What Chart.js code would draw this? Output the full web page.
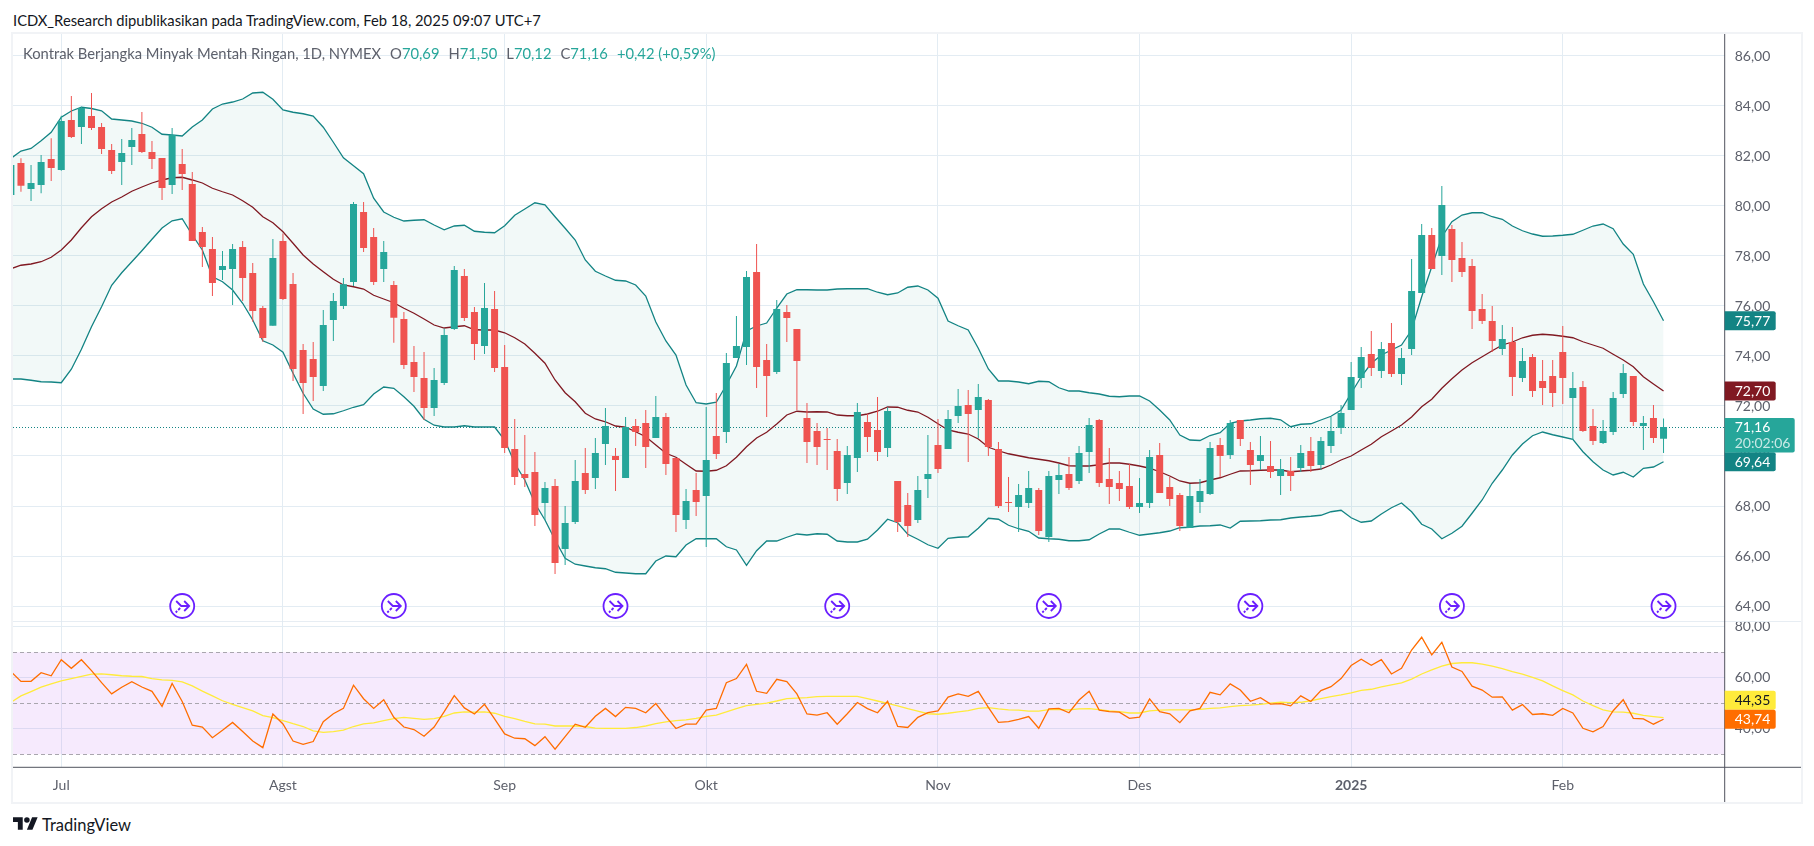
<!DOCTYPE html>
<html>
<head>
<meta charset="utf-8">
<title>Kontrak Berjangka Minyak Mentah Ringan</title>
<script src="https://cdn.jsdelivr.net/npm/chart.js@4"></script>
<style>
  html, body { margin: 0; padding: 0; background: #fff; overflow: hidden; }
  body { width: 1814px; height: 846px; position: relative; font-family: "Lato", sans-serif; }
  .abs { position: absolute; white-space: nowrap; }
  #frame { left: 11px; top: 32px; width: 1788px; height: 768px; border: 2px solid #f1f3f6; }
  #header { left: 13px; top: 11px; font-size: 14.75px; line-height: 18px; color: #131722; }
  #legend { left: 23px; top: 44px; font-size: 14.75px; line-height: 18px; color: #5d606b; }
  #legend b { font-weight: normal; color: #26a69a; }
  #legend span { margin-left: 9px; }
  #brand { left: 42px; top: 815px; font-size: 16.5px; line-height: 20px; color: #131722; }
  canvas { position: absolute; left: 13px; display: block; }
</style>
</head>
<body>
<div id="frame" class="abs"></div>
<div id="header" class="abs">ICDX_Research dipublikasikan pada TradingView.com, Feb 18, 2025 09:07 UTC+7</div>
<canvas id="priceChart" width="1788" height="588" style="top:34px"></canvas>
<canvas id="rsiChart" width="1788" height="180" style="top:622px"></canvas>
<div id="legend" class="abs">Kontrak Berjangka Minyak Mentah Ringan, 1D, NYMEX<span>O<b>70,69</b></span><span>H<b>71,50</b></span><span>L<b>70,12</b></span><span>C<b>71,16</b></span><span><b>+0,42 (+0,59%)</b></span></div>
<svg class="abs" style="left:13px;top:817px" width="25" height="13" viewBox="0 4 36 18"><path fill="#131722" d="M14 22H7V11H0V4h14v18zM28 22h-8l7.5-18h8L28 22z"/><circle fill="#131722" cx="20" cy="8" r="4"/></svg>
<div id="brand" class="abs">TradingView</div>

<script>
// bar number of the first candle, bar 0 is the first session of July
const firstBar = -5;

const opens = [80.44,81.72,80.68,80.84,81.88,
  81.44,83.44,83.16,83.6,83.16,82.24,81.76,82.36,82.88,82.16,
  81.92,80.84,81.68,80.88,78.96,78.28,77.44,77.48,78.36,77.32,
  75.92,75.21,78.6,76.88,74.24,73.88,72.8,75.44,76.0,76.96,
  79.76,78.76,77.48,76.84,75.48,73.76,73.12,71.92,72.92,75.08,
  77.2,75.76,74.4,75.88,73.56,70.28,69.28,69.36,68.12,68.8,
  66.28,67.36,69.32,69.12,70.48,70.0,69.12,71.2,71.32,70.72,
  71.56,69.92,67.44,68.64,68.4,70.8,70.96,73.92,74.36,77.36,
  73.84,73.36,75.76,75.08,71.52,71.0,70.68,70.2,68.92,69.92,
  71.36,71.04,70.32,69.0,68.04,67.44,69.08,70.44,70.28,71.6,
  72.04,71.84,72.24,70.28,68.16,67.96,68.12,68.64,66.76,69.04,
  69.28,69.0,70.16,71.44,69.08,68.92,68.8,67.96,68.12,70.04,
  68.76,68.44,67.12,68.16,68.48,70.44,70.04,71.44,70.24,69.8,
  69.6,69.2,69.4,69.52,70.2,69.64,70.4,71.12,71.84,73.12,
  74.08,73.4,74.52,73.28,74.28,76.52,78.84,78.0,79.08,77.92,
  77.6,75.88,75.4,74.28,74.56,73.12,73.96,73.0,73.2,74.16,
  72.32,72.76,71.2,70.52,70.96,72.48,73.2,71.2,71.52,70.69];

const closes = [81.64,80.81,80.92,81.76,81.52,
  83.4,82.76,83.92,83.12,82.28,81.4,82.12,82.64,82.16,81.88,
  80.72,82.84,81.28,78.6,78.36,76.92,77.6,78.28,77.12,75.8,
  74.72,77.92,76.28,73.48,72.92,73.16,75.24,76.2,76.87,80.08,
  78.32,76.96,78.16,75.53,73.64,73.16,71.92,73.04,74.84,77.44,
  75.52,74.48,75.92,73.52,70.32,69.16,69.12,67.64,68.72,65.72,
  67.32,69.0,68.64,70.12,71.2,69.84,71.16,70.96,70.36,71.56,
  69.68,67.64,68.2,68.16,69.84,70.08,73.72,74.4,77.16,73.56,
  73.2,75.88,75.52,73.8,70.56,70.36,70.64,68.68,70.04,71.76,
  70.76,70.16,71.8,67.36,67.2,68.64,69.28,69.48,71.48,72.0,
  71.68,72.36,70.36,68.0,68.12,68.44,68.72,67.0,69.2,69.24,
  68.72,70.12,71.24,68.92,68.76,68.68,67.96,68.12,69.96,68.52,
  68.28,67.2,68.4,68.6,70.32,70.0,71.32,70.68,69.64,70.04,
  69.36,69.48,69.2,70.12,69.6,70.6,71.0,71.72,73.16,73.96,
  73.52,74.28,73.28,73.92,76.6,78.84,77.48,80.04,77.84,77.36,
  75.8,75.4,74.6,74.68,73.16,73.8,72.6,72.72,72.52,73.12,
  72.72,71.0,70.6,71.0,72.32,73.32,71.36,71.32,70.72,71.16];

const highs = [81.64,81.91,81.64,82.04,82.71,
  83.61,84.4,83.97,84.52,83.32,82.48,82.68,83.12,83.76,82.6,
  81.92,83.12,82.28,81.36,79.16,78.76,78.2,78.48,78.6,77.72,
  76.0,78.68,78.9,77.32,74.48,74.56,75.84,76.52,77.12,80.16,
  80.16,79.12,78.6,77.0,75.76,74.4,74.16,73.52,75.1,77.6,
  77.48,75.96,76.92,76.6,74.44,71.48,70.84,70.16,68.96,69.08,
  68.0,69.84,70.32,70.72,71.92,70.32,71.56,71.48,71.84,72.4,
  71.72,69.92,68.68,69.32,71.96,72.52,74.12,75.6,77.4,78.48,
  74.48,76.24,76.04,75.08,72.12,71.32,71.12,70.68,70.4,72.12,
  71.68,72.36,71.95,69.0,68.52,69.2,70.84,71.48,71.84,72.68,
  72.64,72.88,72.28,70.56,69.16,68.88,69.4,68.72,69.4,69.68,
  69.96,70.4,71.52,71.48,70.32,69.4,69.68,69.12,70.24,70.52,
  69.16,68.52,68.88,69.08,70.56,70.72,71.44,71.44,70.56,70.8,
  70.6,69.88,69.96,70.44,70.76,70.76,71.56,72.04,73.76,74.36,
  75.0,74.56,75.32,74.32,77.88,79.28,79.12,80.8,79.24,78.56,
  77.88,76.48,76.0,75.24,75.16,74.32,74.08,73.84,73.84,75.2,
  73.36,73.0,71.88,71.44,72.56,73.68,73.2,71.6,72.04,71.5];

const lows = [80.44,80.57,80.2,80.51,81.0,
  81.41,82.72,82.48,83.04,82.08,81.28,80.84,81.64,82.12,81.48,
  80.24,80.48,80.64,78.6,77.56,76.4,77.04,76.04,76.2,75.37,
  74.57,75.21,76.24,73.0,71.68,72.2,72.6,74.6,75.88,76.8,
  78.16,76.84,76.96,74.53,73.48,72.56,71.44,71.6,72.84,75.04,
  75.4,73.84,74.08,73.36,70.12,68.84,68.76,67.2,67.44,65.28,
  65.64,67.28,68.48,68.68,69.64,68.6,69.12,70.4,69.52,70.72,
  69.24,66.96,67.08,67.6,66.36,69.88,70.52,73.92,73.64,72.72,
  71.56,73.28,74.56,71.84,69.72,69.64,69.44,68.2,68.48,69.36,
  70.16,69.8,69.96,66.96,66.76,67.32,68.32,69.32,70.28,71.32,
  69.76,70.72,70.0,67.92,67.76,66.96,67.92,66.84,66.56,68.48,
  68.64,68.88,69.32,68.76,68.08,68.2,67.88,67.72,67.92,68.52,
  68.0,67.0,67.12,67.72,68.44,69.16,69.88,70.4,68.84,69.44,
  69.12,68.44,68.6,69.36,69.36,69.44,70.12,70.88,71.84,72.72,
  73.2,73.12,73.16,72.84,74.04,76.52,77.48,77.24,76.96,77.16,
  75.08,75.28,74.16,74.04,72.4,72.96,72.36,72.04,71.96,72.08,
  70.64,70.96,70.44,70.48,70.84,72.32,71.2,70.24,70.52,70.12];

const bbUpper = [81.9,82.2,82.3,82.61,82.95,
  83.55,83.8,83.95,83.9,83.81,83.48,83.44,83.4,83.31,83.15,
  82.87,82.84,82.8,83.16,83.44,83.88,84.08,84.16,84.28,84.52,
  84.55,84.27,83.84,83.75,83.69,83.6,83.15,82.55,81.93,81.61,
  81.29,80.31,79.76,79.55,79.4,79.43,79.45,79.24,79.05,79.2,
  79.23,78.99,78.95,78.93,79.21,79.63,79.88,80.13,80.05,79.57,
  79.11,78.64,77.84,77.39,77.2,77.03,77.0,76.84,76.4,75.36,
  74.6,74.04,72.84,72.13,72.08,72.15,72.84,73.6,75.0,75.2,
  75.32,75.92,76.48,76.65,76.65,76.64,76.64,76.68,76.69,76.69,
  76.69,76.55,76.45,76.52,76.75,76.8,76.64,76.31,75.4,75.21,
  75.04,74.31,73.48,73.0,73.0,72.96,72.89,72.99,72.97,72.73,
  72.6,72.6,72.53,72.48,72.39,72.37,72.4,72.4,72.2,71.84,
  71.44,70.84,70.64,70.62,70.82,70.93,71.31,71.4,71.44,71.49,
  71.51,71.45,71.17,71.27,71.29,71.44,71.59,71.84,72.51,73.17,
  73.71,74.04,74.24,74.44,75.04,76.37,77.57,78.77,79.37,79.64,
  79.73,79.73,79.57,79.47,79.2,79.01,78.88,78.79,78.8,78.83,
  78.87,79.03,79.2,79.28,79.09,78.48,78.07,76.88,76.17,75.41];

const bbMiddle = [77.49,77.63,77.68,77.77,77.95,
  78.24,78.64,79.13,79.57,79.89,80.16,80.36,80.59,80.76,80.92,
  81.04,81.13,81.15,81.04,80.92,80.71,80.57,80.44,80.21,79.95,
  79.57,79.33,78.97,78.51,78.04,77.68,77.37,77.07,76.84,76.77,
  76.68,76.43,76.28,76.13,75.91,75.71,75.48,75.24,75.12,75.17,
  75.21,75.05,75.04,75.04,74.93,74.73,74.48,74.11,73.71,73.04,
  72.53,72.17,71.71,71.48,71.37,71.2,71.15,70.97,70.77,70.44,
  70.11,69.95,69.67,69.4,69.39,69.43,69.61,69.95,70.37,70.72,
  70.95,71.28,71.64,71.79,71.76,71.77,71.76,71.64,71.61,71.61,
  71.68,71.79,71.96,71.95,71.83,71.76,71.55,71.29,71.04,70.95,
  70.88,70.68,70.35,70.21,70.09,70.01,69.93,69.87,69.81,69.72,
  69.61,69.6,69.6,69.65,69.72,69.72,69.67,69.6,69.51,69.37,
  69.2,69.0,68.91,68.93,69.04,69.13,69.27,69.4,69.41,69.43,
  69.44,69.44,69.37,69.4,69.43,69.48,69.64,69.84,70.0,70.24,
  70.47,70.77,71.0,71.24,71.56,71.97,72.27,72.71,73.09,73.44,
  73.73,73.97,74.21,74.44,74.56,74.73,74.83,74.87,74.84,74.79,
  74.73,74.57,74.44,74.31,74.07,73.84,73.57,73.17,72.88,72.6];

const bbLower = [73.08,73.08,73.03,72.97,72.96,
  72.93,73.47,74.27,75.17,75.97,76.83,77.33,77.77,78.21,78.67,
  79.12,79.41,79.49,78.84,78.24,77.17,76.97,76.64,76.11,75.44,
  74.61,74.44,74.15,73.31,72.51,71.88,71.67,71.69,71.81,71.95,
  72.05,72.48,72.76,72.71,72.37,71.99,71.47,71.23,71.16,71.16,
  71.21,71.16,71.16,71.16,70.64,69.71,69.04,68.11,67.44,66.64,
  65.91,65.67,65.6,65.53,65.49,65.35,65.32,65.29,65.29,65.8,
  66.0,65.97,66.44,66.69,66.69,66.69,66.37,66.24,65.63,66.21,
  66.6,66.6,66.75,66.88,66.84,66.89,66.87,66.6,66.56,66.56,
  66.67,67.04,67.47,67.33,66.87,66.67,66.45,66.31,66.71,66.75,
  66.77,67.11,67.51,67.47,67.23,67.09,66.99,66.72,66.69,66.67,
  66.61,66.61,66.65,66.88,67.08,67.08,66.95,66.83,66.88,66.93,
  67.0,67.13,67.15,67.2,67.21,67.24,67.12,67.39,67.4,67.41,
  67.44,67.45,67.52,67.56,67.59,67.63,67.77,67.83,67.53,67.35,
  67.4,67.68,67.93,68.12,67.77,67.27,67.08,66.69,66.91,67.19,
  67.71,68.24,68.91,69.44,70.04,70.48,70.81,70.96,70.85,70.76,
  70.67,70.17,69.77,69.44,69.24,69.35,69.16,69.51,69.56,69.77];

const rsiValues = [62.4,58.6,58.6,62.0,60.8,
  67.1,63.7,67.1,62.8,58.1,53.7,56.3,58.5,56.4,54.7,
  48.8,57.8,50.7,41.4,40.7,36.5,39.4,42.5,38.9,35.2,
  32.6,45.8,41.9,35.2,33.9,35.0,42.8,45.9,48.0,57.1,
  51.8,48.0,51.4,44.5,40.7,39.7,37.1,40.7,46.7,53.0,
  48.2,45.8,49.6,43.9,38.0,36.3,36.1,33.4,36.9,32.0,
  36.9,41.8,40.6,44.9,48.0,44.8,48.4,48.0,46.3,49.9,
  44.8,40.1,41.8,41.8,47.3,48.0,58.1,59.7,65.3,54.7,
  53.9,59.4,58.5,53.7,45.8,45.4,46.3,41.8,45.9,50.3,
  47.9,46.3,50.8,40.9,40.5,44.5,46.3,47.0,52.4,53.7,
  52.7,54.7,48.4,42.5,42.8,43.7,44.8,40.2,47.8,48.0,
  46.3,51.3,54.7,47.3,46.7,46.5,44.1,44.6,51.7,46.7,
  45.9,42.4,47.0,48.0,54.3,53.3,57.6,55.2,50.8,52.2,
  49.7,49.9,49.0,52.9,50.7,55.0,56.5,59.7,64.8,67.3,
  64.9,67.1,61.5,63.7,70.9,75.9,69.0,73.9,64.2,62.5,
  56.7,55.2,52.4,52.5,47.3,49.5,45.6,45.9,45.3,48.0,
  46.2,40.2,38.8,40.9,47.1,51.4,44.1,43.9,41.8,43.74];

const rsiMa = [50.4,52.9,54.6,56.3,57.6,
  58.8,59.7,60.6,61.4,61.5,61.2,60.8,60.6,60.5,59.7,
  59.2,59.0,58.4,56.8,54.8,52.9,51.0,49.6,48.3,47.0,
  45.2,44.4,43.2,42.0,40.9,39.2,38.6,38.9,39.5,40.9,
  41.9,42.3,43.2,44.0,44.5,44.1,43.7,44.0,44.9,46.2,
  46.6,46.5,46.6,46.1,44.9,44.0,42.9,41.9,41.8,41.1,
  41.1,41.1,40.9,40.3,40.2,40.2,40.2,40.5,41.1,42.0,
  42.7,43.2,43.5,44.1,44.9,45.4,46.6,47.9,49.1,49.6,
  50.1,50.9,51.8,52.0,52.2,52.6,52.7,52.7,52.7,52.7,
  51.8,50.9,50.0,49.0,47.9,46.9,45.9,45.7,46.1,46.6,
  47.1,48.0,48.3,47.8,47.4,47.3,46.9,46.9,47.5,47.5,
  47.4,47.8,47.9,47.5,47.0,46.7,46.2,46.2,47.0,47.3,
  47.4,47.4,47.4,47.6,48.0,48.2,48.7,49.1,49.3,49.6,
  50.1,50.4,50.3,50.4,51.0,51.8,52.6,53.3,54.1,55.1,
  55.5,56.4,57.2,58.0,59.5,61.5,63.1,64.6,65.6,65.9,
  65.9,65.4,64.6,63.6,62.4,61.4,60.2,58.8,56.8,55.0,
  53.3,50.9,49.1,47.4,46.6,46.5,46.1,45.3,44.8,44.35];

const monthBars = [0, 22, 44, 64, 87, 107, 128, 149];
const monthLabels = ['Jul', 'Agst', 'Sep', 'Okt', 'Nov', 'Des', '2025', 'Feb'];
const rsiTicks = [80, 60, 40];
const rsiLevels = [70, 50, 30];
const eventBars = [12, 33, 55, 77, 98, 118, 138, 159];
const eventPrice = 64;

const lastCloseText = '71,16';
const countdownText = '20:02:06';
const bbTexts = ['75,77', '72,70', '69,64'];
const rsiMaText = '44,35';
const rsiText = '43,74';

const UP = '#26a69a';
const DOWN = '#ef5350';
const BAND = '#138484';
const BASIS = '#801922';
const GRID = '#e3ecf3';
const TEXT = '#5d606b';
const FONT = 'Lato, sans-serif';

const xMin = -4.79;
const xMax = 165.07;
const axisWidth = 76.3;

const bars = opens.map((_, i) => i + firstBar);
const candleColors = opens.map((o, i) => closes[i] >= o ? UP : DOWN);
const points = values => values.map((v, i) => ({ x: bars[i], y: v }));
const comma = v => Number(v).toFixed(2).replace('.', ',');

function xAxis(showLabels) {
  return {
    type: 'linear',
    min: xMin,
    max: xMax,
    offset: false,
    afterBuildTicks: s => { s.ticks = monthBars.map(v => ({ value: v })); },
    afterFit: s => {
      s.paddingLeft = 0; s.paddingRight = 0;
      s.height = showLabels ? 34.7 : 0;
    },
    grid: { color: GRID, offset: false, drawTicks: false },
    border: { display: false },
    ticks: {
      display: showLabels,
      autoSkip: false,
      maxRotation: 0,
      padding: 10,
      color: TEXT,
      font: c => ({ family: FONT, size: 14, weight: c.tick && c.tick.value === 128 ? 'bold' : 'normal' }),
      callback: v => monthLabels[monthBars.indexOf(v)]
    }
  };
}

function yAxis(extra) {
  return Object.assign({
    position: 'right',
    afterFit: s => { s.width = axisWidth; s.paddingTop = 0; s.paddingBottom = 0; },
    grid: { color: GRID, drawTicks: false },
    border: { display: false }
  }, extra);
}

// value tag on the price scale
function tag(ctx, area, y, text, color, textColor) {
  ctx.fillStyle = color;
  ctx.beginPath();
  ctx.roundRect(area.right, y - 9.5, 51, 19, [0, 2, 2, 0]);
  ctx.fill();
  ctx.fillStyle = textColor;
  ctx.font = '14px ' + FONT;
  ctx.textAlign = 'left';
  ctx.textBaseline = 'middle';
  ctx.fillText(text, area.right + 10, y + 0.5);
}

const priceOverlay = {
  id: 'priceOverlay',
  beforeDatasetsDraw(chart) {
    const { ctx, chartArea: a, scales: { y } } = chart;
    const lastY = Math.round(y.getPixelForValue(closes[closes.length - 1])) + 0.5;
    ctx.save();
    ctx.strokeStyle = BAND;
    ctx.lineWidth = 1;
    ctx.setLineDash([1, 2]);
    ctx.beginPath();
    ctx.moveTo(a.left, lastY);
    ctx.lineTo(a.right, lastY);
    ctx.stroke();
    ctx.restore();
  },
  afterDraw(chart) {
    const { ctx, chartArea: a, scales: { x, y } } = chart;
    ctx.save();
    // arrow badges on the contract rollovers
    eventBars.forEach(b => {
      const cx = x.getPixelForValue(b);
      const cy = y.getPixelForValue(eventPrice);
      ctx.strokeStyle = '#6a1fff';
      ctx.fillStyle = '#fff';
      ctx.lineWidth = 1.8;
      ctx.beginPath();
      ctx.arc(cx, cy, 12, 0, Math.PI * 2);
      ctx.fill();
      ctx.stroke();
      ctx.beginPath();
      ctx.moveTo(cx - 6, cy - 5); ctx.lineTo(cx - 1, cy); ctx.lineTo(cx + 7, cy);
      ctx.moveTo(cx + 2, cy - 5); ctx.lineTo(cx + 7, cy); ctx.lineTo(cx + 2, cy + 5);
      ctx.moveTo(cx - 2, cy + 2); ctx.lineTo(cx - 4, cy + 4);
      ctx.moveTo(cx - 5, cy + 5); ctx.lineTo(cx - 6.5, cy + 6.5);
      ctx.stroke();
    });
    ctx.strokeStyle = '#dfe7ef';
    ctx.lineWidth = 1.5;
    ctx.beginPath();
    ctx.moveTo(a.left, a.bottom);
    ctx.lineTo(chart.width, a.bottom);
    ctx.stroke();
    ctx.strokeStyle = '#50535e';
    ctx.lineWidth = 1;
    ctx.beginPath();
    ctx.moveTo(a.right, a.top);
    ctx.lineTo(a.right, a.bottom);
    ctx.stroke();
    const lastIdx = bars.length - 1;
    tag(ctx, a, y.getPixelForValue(bbUpper[lastIdx]), bbTexts[0], BAND, '#fff');
    tag(ctx, a, y.getPixelForValue(bbMiddle[lastIdx]), bbTexts[1], BASIS, '#fff');
    tag(ctx, a, y.getPixelForValue(bbLower[lastIdx]), bbTexts[2], BAND, '#fff');
    const lastY = y.getPixelForValue(closes[lastIdx]);
    ctx.fillStyle = UP;
    ctx.beginPath();
    ctx.roundRect(a.right, lastY - 9, 70, 34.5, [0, 2, 2, 0]);
    ctx.fill();
    ctx.fillStyle = '#fff';
    ctx.font = '14px ' + FONT;
    ctx.textAlign = 'left';
    ctx.textBaseline = 'middle';
    ctx.fillText(lastCloseText, a.right + 10, lastY);
    ctx.fillStyle = 'rgba(255,255,255,0.75)';
    ctx.fillText(countdownText, a.right + 10, lastY + 16);
    ctx.restore();
  }
};

const rsiOverlay = {
  id: 'rsiOverlay',
  beforeDatasetsDraw(chart) {
    const { ctx, chartArea: a, scales: { y } } = chart;
    const top = y.getPixelForValue(rsiLevels[0]);
    const bottom = y.getPixelForValue(rsiLevels[2]);
    ctx.save();
    ctx.fillStyle = 'rgba(170,60,240,0.11)';
    ctx.fillRect(a.left, top, a.right - a.left, bottom - top);
    ctx.strokeStyle = '#a9a6ae';
    ctx.lineWidth = 1;
    ctx.setLineDash([4, 3]);
    rsiLevels.forEach(level => {
      const ly = Math.round(y.getPixelForValue(level)) + 0.5;
      ctx.beginPath();
      ctx.moveTo(a.left, ly);
      ctx.lineTo(a.right, ly);
      ctx.stroke();
    });
    ctx.restore();
  },
  afterDraw(chart) {
    const { ctx, chartArea: a, scales: { y } } = chart;
    ctx.save();
    ctx.strokeStyle = '#50535e';
    ctx.lineWidth = 1;
    ctx.beginPath();
    ctx.moveTo(a.left, a.bottom);
    ctx.lineTo(chart.width, a.bottom);
    ctx.moveTo(a.right, 0);
    ctx.lineTo(a.right, chart.height);
    ctx.stroke();
    const lastY = y.getPixelForValue(rsiValues[rsiValues.length - 1]);
    tag(ctx, a, lastY - 19, rsiMaText, '#ffeb3b', '#131722');
    tag(ctx, a, lastY, rsiText, '#ff6d00', '#fff');
    ctx.restore();
  }
};

new Chart(document.getElementById('priceChart'), {
  type: 'line',
  data: {
    datasets: [
      { label: 'BB upper', data: points(bbUpper), borderColor: BAND, borderWidth: 1.3, pointRadius: 0, tension: 0,
        fill: '+2', backgroundColor: 'rgba(38,150,140,0.06)', order: 5 },
      { label: 'BB basis', data: points(bbMiddle), borderColor: BASIS, borderWidth: 1.3, pointRadius: 0, tension: 0, fill: false, order: 4 },
      { label: 'BB lower', data: points(bbLower), borderColor: BAND, borderWidth: 1.3, pointRadius: 0, tension: 0, fill: false, order: 4 },
      { type: 'bar', label: 'wick', data: bars.map((b, i) => ({ x: b, y: [lows[i], highs[i]] })),
        backgroundColor: candleColors, barThickness: 1, grouped: false, borderWidth: 0, inflateAmount: 0, order: 2 },
      { type: 'bar', label: 'body', data: bars.map((b, i) => ({ x: b, y: [opens[i], closes[i]] })),
        backgroundColor: candleColors, barThickness: 7, grouped: false, borderWidth: 0, inflateAmount: 0, minBarLength: 1, order: 1 }
    ]
  },
  options: {
    responsive: false,
    animation: false,
    devicePixelRatio: 1,
    layout: { padding: 0 },
    plugins: { legend: { display: false }, tooltip: { enabled: false } },
    scales: {
      x: xAxis(false),
      y: yAxis({
        min: 63.36,
        max: 86.88,
        ticks: {
          stepSize: 2,
          includeBounds: false,
          padding: 10,
          color: TEXT,
          font: { family: FONT, size: 14 },
          callback: comma
        }
      })
    }
  },
  plugins: [priceOverlay]
});

new Chart(document.getElementById('rsiChart'), {
  type: 'line',
  data: {
    datasets: [
      { label: 'RSI', data: points(rsiValues), borderColor: '#ff6d00', borderWidth: 1.3, pointRadius: 0, tension: 0, fill: false, order: 1 },
      { label: 'RSI MA', data: points(rsiMa), borderColor: '#ffeb3b', borderWidth: 1.3, pointRadius: 0, tension: 0, fill: false, order: 2 }
    ]
  },
  options: {
    responsive: false,
    animation: false,
    devicePixelRatio: 1,
    layout: { padding: 0 },
    plugins: { legend: { display: false }, tooltip: { enabled: false } },
    scales: {
      x: xAxis(true),
      y: yAxis({
        min: 24.9,
        max: 81.88,
        afterBuildTicks: s => { s.ticks = rsiTicks.map(v => ({ value: v })); },
        ticks: {
          padding: 10,
          color: TEXT,
          font: { family: FONT, size: 14 },
          callback: comma
        }
      })
    }
  },
  plugins: [rsiOverlay]
});
</script>
</body>
</html>
